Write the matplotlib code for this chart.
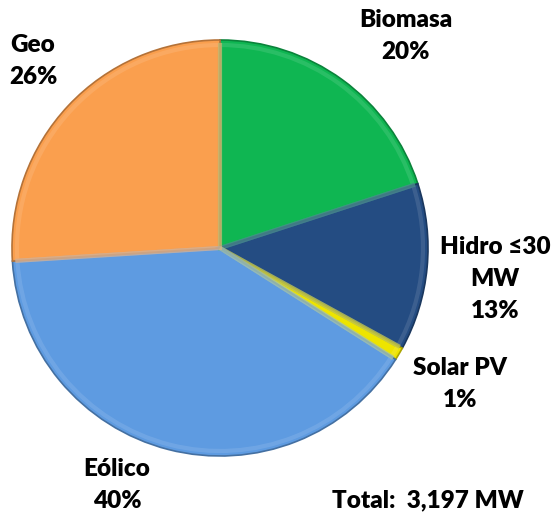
import matplotlib
matplotlib.use("Agg")
import matplotlib.pyplot as plt
import matplotlib.colors as mcolors

# Data
labels = ["Biomasa", "Hidro \u226430\nMW", "Solar PV", "E\u00f3lico", "Geo"]
shares = [20, 13, 1, 40, 26]
colors = ["#0FB652", "#244C82", "#EDE400", "#5E9BE1", "#FA9F4E"]
total_text = "Total:  3,197 MW"

# Label anchor points in image pixels (x, y from top)
label_pos = [(406, 36), (495, 279), (460, 384), (117, 485), (33, 61)]

W, H = 556, 515
fig = plt.figure(figsize=(W / 100, H / 100), dpi=100)
ax = fig.add_axes([0, 0, 1, 1])

cx, cy, r = 220, H - 248, 208


def shade(c, f):
    rgb = mcolors.to_rgb(c)
    if f < 1:
        return tuple(v * f for v in rgb)
    return tuple(v + (1 - v) * (f - 1) for v in rgb)


# base wedges with darker rim
wedges, _ = ax.pie(shares, colors=colors, startangle=90, counterclock=False,
                   center=(cx, cy), radius=r,
                   wedgeprops=dict(linewidth=1.2, edgecolor="none"))
for w, c in zip(wedges, colors):
    w.set_edgecolor(shade(c, 0.72))

# soft bevel highlight inside the rim
inner, _ = ax.pie(shares, colors=["none"] * len(shares), startangle=90,
                  counterclock=False, center=(cx, cy), radius=r - 5,
                  wedgeprops=dict(linewidth=3, fill=False))
for w, c in zip(inner, colors):
    w.set_edgecolor(shade(c, 1.2))
    w.set_alpha(0.55)

ax.set_xlim(0, W)
ax.set_ylim(0, H)
ax.set_aspect("equal")
ax.axis("off")

font = dict(family=["Lato", "DejaVu Sans"], fontsize=17.5, fontweight="heavy",
            color="black", ha="center", va="center", linespacing=1.55)

for lab, s, (x, y) in zip(labels, shares, label_pos):
    ax.text(x, H - y, f"{lab}\n{s}%", **font)

ax.text(428, H - 500, total_text, **font)

fig.savefig("out.png", dpi=100)
